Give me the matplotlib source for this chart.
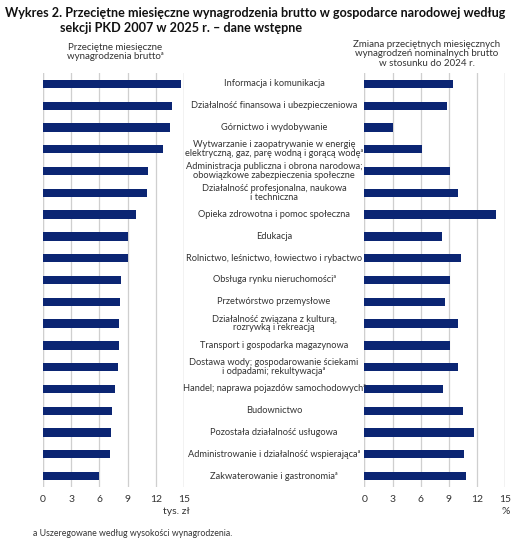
import matplotlib
matplotlib.use("Agg")
import matplotlib.pyplot as plt
from matplotlib.transforms import blended_transform_factory

plt.rcParams['font.family'] = ['Lato', 'DejaVu Sans']

# sections of PKD 2007 (top to bottom)
categories = [
    "Informacja i komunikacja",
    "Działalność finansowa i ubezpieczeniowa",
    "Górnictwo i wydobywanie",
    "Wytwarzanie i zaopatrywanie w energię\nelektryczną, gaz, parę wodną i gorącą wodęᵃ",
    "Administracja publiczna i obrona narodowa;\nobowiązkowe zabezpieczenia społeczne",
    "Działalność profesjonalna, naukowa\ni techniczna",
    "Opieka zdrowotna i pomoc społeczna",
    "Edukacja",
    "Rolnictwo, leśnictwo, łowiectwo i rybactwo",
    "Obsługa rynku nieruchomościᵃ",
    "Przetwórstwo przemysłowe",
    "Działalność związana z kulturą,\nrozrywką i rekreacją",
    "Transport i gospodarka magazynowa",
    "Dostawa wody; gospodarowanie ściekami\ni odpadami; rekultywacjaᵃ",
    "Handel; naprawa pojazdów samochodowychᵃ",
    "Budownictwo",
    "Pozostała działalność usługowa",
    "Administrowanie i działalność wspierającaᵃ",
    "Zakwaterowanie i gastronomiaᵃ",
]

# average monthly gross wages, thousand PLN
wages = [14.72, 13.72, 13.55, 12.77, 11.17, 11.10, 9.89, 9.04, 9.01, 8.26,
         8.23, 8.09, 8.09, 7.94, 7.62, 7.34, 7.27, 7.16, 5.99]

# change vs 2024, %
change = [9.40, 8.83, 3.09, 6.10, 9.11, 10.0, 14.0, 8.30, 10.32, 9.11,
          8.62, 9.93, 9.11, 9.93, 8.40, 10.53, 11.63, 10.64, 10.82]

ticks = [0, 3, 6, 9, 12, 15]

bar_color = '#0b2573'
grid_color = '#cfcfcf'
text_color = '#333333'

W, H = 531, 547
fig = plt.figure(figsize=(W / 100, H / 100), dpi=100)

top, bottom = 73, 487
ax1 = fig.add_axes([43 / W, 1 - bottom / H, 141 / W, (bottom - top) / H])
ax2 = fig.add_axes([364.3 / W, 1 - bottom / H, 141 / W, (bottom - top) / H])

ypos = list(range(len(categories)))
for ax, vals in ((ax1, wages), (ax2, change)):
    ax.barh(ypos, vals, height=0.38, color=bar_color, zorder=3)
    ax.set_xlim(0, 15)
    ax.set_ylim(len(categories) - 0.5, -0.5)
    ax.set_xticks(ticks)
    ax.set_xticklabels([str(t) for t in ticks], fontsize=7.5, color=text_color)
    ax.set_yticks([])
    ax.tick_params(axis='x', length=0, pad=6)
    ax.grid(axis='x', color=grid_color, linewidth=0.9, zorder=0)
    for s in ax.spines.values():
        s.set_visible(False)
    ax.axvline(0, color=grid_color, linewidth=0.9, zorder=0)
    ax.axvline(15, color=grid_color, linewidth=0.9, zorder=0)

# category labels in the middle
tr = blended_transform_factory(fig.transFigure, ax1.transData)
for y, lab in zip(ypos, categories):
    fig.text(274 / W, y, lab, transform=tr, ha='center', va='center',
             fontsize=6.7, color=text_color, linespacing=0.95)

# title
fig.text(5 / W, 1 - 13 / H, "Wykres 2. Przeciętne miesięczne wynagrodzenia brutto w gospodarce narodowej według",
         fontsize=9.05, fontweight='bold', color='#111111', va='center', ha='left')
fig.text(60 / W, 1 - 28 / H, "sekcji PKD 2007 w 2025 r. – dane wstępne",
         fontsize=9.05, fontweight='bold', color='#111111', va='center', ha='left')

# panel headers
fig.text(115 / W, 1 - 52 / H, "Przeciętne miesięczne\nwynagrodzenia bruttoᵃ",
         fontsize=7, color=text_color, ha='center', va='center', linespacing=1.1)
fig.text(427 / W, 1 - 54 / H, "Zmiana przeciętnych miesięcznych\nwynagrodzeń nominalnych brutto\nw stosunku do 2024 r.",
         fontsize=7, color=text_color, ha='center', va='center', linespacing=1.1)

# units
fig.text(176 / W, 1 - 512 / H, "tys. zł", fontsize=7.5, color=text_color, ha='center', va='center')
fig.text(506 / W, 1 - 512 / H, "%", fontsize=7.5, color=text_color, ha='center', va='center')

# footnote
fig.text(33 / W, 1 - 534 / H, "a Uszeregowane według wysokości wynagrodzenia.",
         fontsize=6.3, color=text_color, ha='left', va='center')

fig.savefig("out.png", dpi=100, facecolor='white')
